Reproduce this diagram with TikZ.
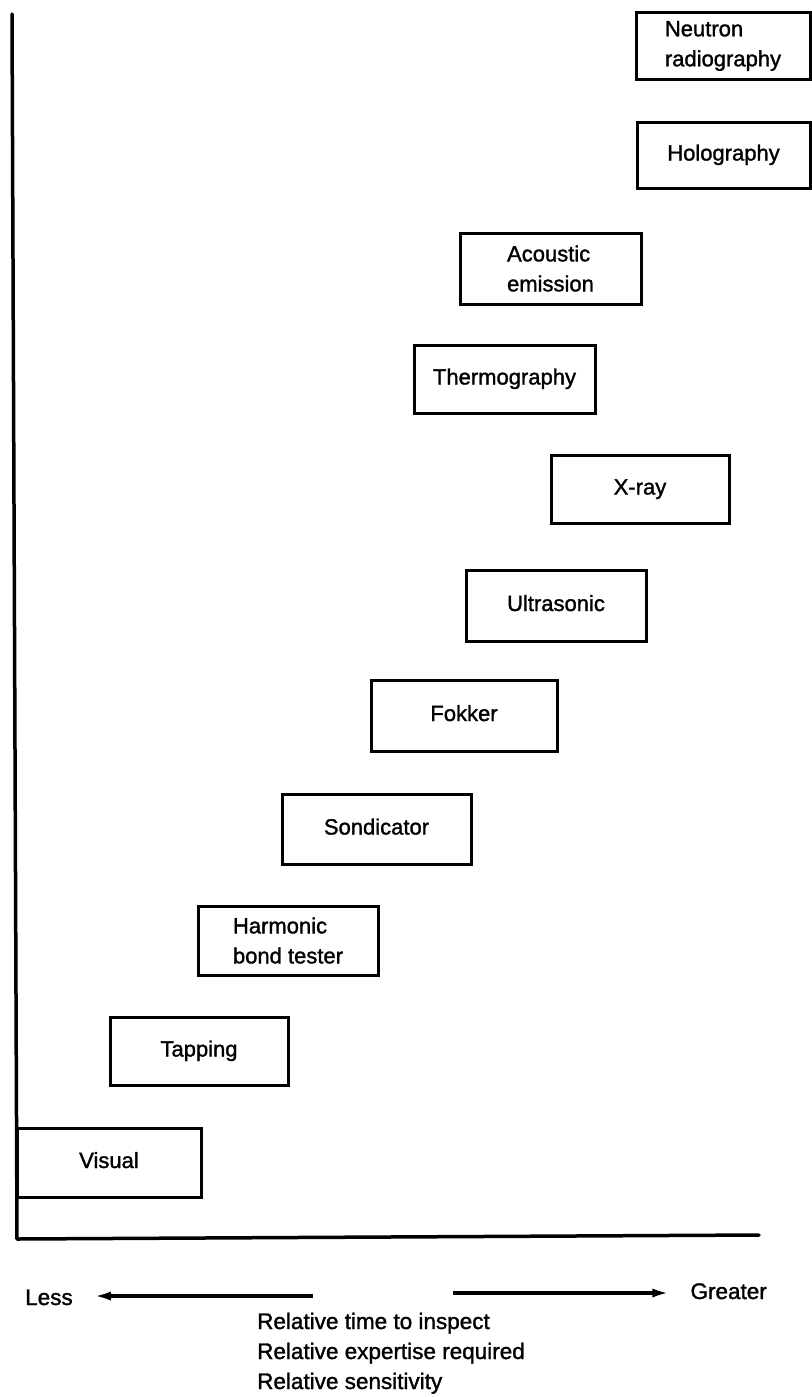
\documentclass[tikz,border=0pt]{standalone}
\usepackage{fontspec}
\setmainfont{Liberation Sans}[FakeBold=1.4]
\usetikzlibrary{arrows.meta}
\begin{document}
\begin{tikzpicture}[x=1pt,y=-1pt,
  box/.style={draw, line width=3pt, rectangle, inner sep=0pt, font=\fontsize{22}{30}\selectfont},
  one/.style={text height=16pt, text depth=5pt},
  lbl/.style={inner sep=0pt, font=\fontsize{22.5}{30}\selectfont},
  axisline/.style={line width=3.5pt, line cap=round, line join=round},
  arr/.style={line width=3.5pt, -{Latex[length=18pt,width=9pt]}}]
\useasboundingbox (0,0) rectangle (811,1397);
% axes
\coordinate (ytop) at (12,14);
\coordinate (origin) at (17,1239);
\coordinate (xend) at (759,1235);
\draw[axisline] (ytop) -- (origin) -- (xend);
% boxes
\node[box, align=left, minimum width=174pt, minimum height=66pt] (neutron) at (723,46) {Neutron\\radiography};
\node[box, one, minimum width=173pt, minimum height=66pt] (holo) at (723.5,155) {Holography};
\node[box, align=left, minimum width=181pt, minimum height=71pt] (acoustic) at (550.5,268.5) {Acoustic\\emission};
\node[box, one, minimum width=181pt, minimum height=68pt] (thermo) at (504.5,379) {Thermography};
\node[box, one, minimum width=178pt, minimum height=68pt] (xray) at (640,489) {X-ray};
\node[box, one, minimum width=180pt, minimum height=71pt] (ultra) at (556,605.5) {Ultrasonic};
\node[box, one, minimum width=186pt, minimum height=71pt] (fokker) at (464,715.5) {Fokker};
\node[box, one, minimum width=189pt, minimum height=70pt] (sondi) at (376.5,829) {Sondicator};
\node[box, align=left, minimum width=180pt, minimum height=69pt] (harmonic) at (288,940.5) {Harmonic\\bond tester};
\node[box, one, minimum width=178pt, minimum height=68pt] (tapping) at (199,1051) {Tapping};
\node[box, one, minimum width=184pt, minimum height=69pt] (visual) at (109,1162.5) {Visual};
% legend
\node[lbl, anchor=base west] (less) at (25,1305) {Less};
\node[lbl, anchor=base east] (greater) at (767,1299) {Greater};
\coordinate (ltail) at (313,1296);
\coordinate (rtail) at (453,1293);
\draw[arr, shorten >=20pt] (ltail) -- (less.east |- ltail);
\draw[arr, shorten >=20pt] (rtail) -- (greater.west |- rtail);
\node[lbl, anchor=base west] (t1) at (257,1329) {Relative time to inspect};
\node[lbl, anchor=base west] (t2) at (257,1359) {Relative expertise required};
\node[lbl, anchor=base west] (t3) at (257,1389) {Relative sensitivity};
\end{tikzpicture}
\end{document}
